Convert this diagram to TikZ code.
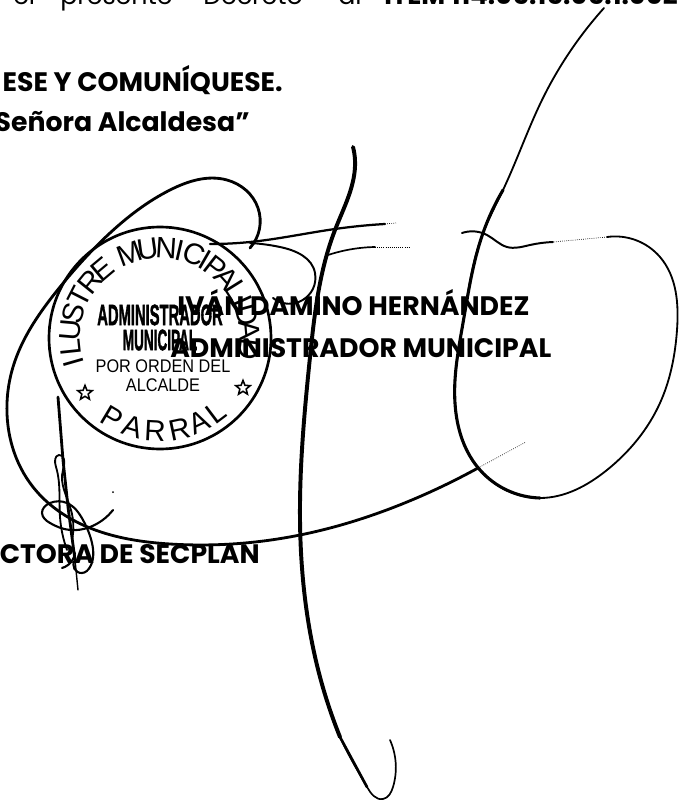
\documentclass[tikz,border=0pt]{standalone}
\usepackage{fontspec}
\setmainfont{Poppins}
\newfontfamily\stampfont{Liberation Sans}
\newfontfamily\stampheavy[FakeBold=2]{Liberation Sans Bold}
\usetikzlibrary{shapes.geometric,hobby}
\tikzset{
	bodytext/.style={font=\fontsize{19}{19}\selectfont\bfseries,inner sep=0pt,anchor=base east},
	linetext/.style={font=\fontsize{18}{18}\selectfont,inner sep=0pt,anchor=base west},
	stampletter/.style={font=\stampfont\fontsize{21}{21}\selectfont,inner sep=0pt},
	stampstar/.style={draw,line width=1.1pt,star,star points=5,star point ratio=2.3,minimum size=0.38cm,inner sep=0pt},
	pen/.style={use Hobby shortcut,line width=#1,line cap=round,line join=round},
	fade/.style={line width=0.5pt,densely dotted}
}
\begin{document}
\begin{tikzpicture}[x=0.025cm,y=-0.025cm]
	\useasboundingbox (0,0) rectangle (680,800);
	\clip (0,0) rectangle (680,800);
	
	% decree lines
	\node[linetext] (el) at (13,5) {el};
	\node[linetext] (presente) at (60,5) {presente};
	\node[linetext] (decreto) at (203,5) {Decreto};
	\node[linetext] (al) at (338,5) {al};
	\node[linetext,font=\fontsize{18.5}{18.5}\selectfont\bfseries] (item) at (384,5) {ITEM 114.05.15.05.1.002};
	\node[bodytext] (comunique) at (283,92) {ESE Y COMUNÍQUESE.};
	\node[bodytext] (senora) at (250,132) {Señora Alcaldesa”};
	
	% names
	\node[bodytext,anchor=base west] (ivan) at (177,315) {IVÁN DAMINO HERNÁNDEZ};
	\node[bodytext,anchor=base west] (cargo) at (170,357) {ADMINISTRADOR MUNICIPAL};
	\node[bodytext] (secplan) at (260,563) {CTORA DE SECPLAN};
	
	% stamp
	\begin{scope}[shift={(160,338)}]
		\draw[line width=1.9pt] (0,0) circle [radius=111];
		\foreach \a/\ltr in {196/I,186/L,175/U,164/S,153/T,141/R,130/E,110/M,98/U,86/N,77/I,68/C,60/I,52/P,42/A,32/L,24/I,15/D,5/A,-7/D}
		{
			\node[stampletter,rotate=\a-90] (top\a) at (-\a:90) {\ltr};
		}
		\foreach \a/\ltr in {239/P,253/A,267/R,282/R,295/A,307/L}
		{
			\node[stampletter,rotate=\a+90] (low\a) at (-\a:93) {\ltr};
		}
		\node[stampstar] (starl) at (-75,55) {};
		\node[stampstar] (starr) at (83,50) {};
	\end{scope}
	\node[inner sep=0pt,font=\stampheavy\fontsize{21}{21}\selectfont] (admin) at (160,315) {\scalebox{0.5}[1]{ADMINISTRADOR}};
	\node[inner sep=0pt,font=\stampheavy\fontsize{21}{21}\selectfont] (muni) at (160,340) {\scalebox{0.46}[1]{MUNICIPAL}};
	\node[inner sep=0pt,font=\stampfont\fontsize{13}{13}\selectfont] (orden) at (163,366) {\scalebox{0.89}[1]{POR ORDEN DEL}};
	\node[inner sep=0pt,font=\stampfont\fontsize{13}{13}\selectfont] (alcalde) at (163,385) {\scalebox{0.89}[1]{ALCALDE}};
	
	% big signature
	\draw[pen=2pt] (250,248) .. (258,208) .. (227,180) .. (170,190) .. (110,233) .. (60,287) .. (13,367) .. (7,403) .. (33,487) .. (90,528) .. (170,544) .. (300,535) .. (407,502) .. (478,468);
	\draw[fade] (478,468) -- (526,442);
	\draw[pen=1.2pt] (353,147) .. (355,160) .. (335,230) .. (310,357) .. (300,520) .. (320,677) .. (340,737) .. (367,787) .. (383,799) .. (393,787) .. (390,740);
	\draw[pen=2.8pt] (353,147) .. (355,160) .. (335,230) .. (310,357) .. (300,520) .. (320,677) .. (340,737);
	\draw[pen=1.9pt] (340,737) .. (367,787);
	\draw[pen=1.3pt] (604,8) .. (542,100) .. (503,190) .. (483,233) .. (463,323) .. (455,380) .. (480,470) .. (540,498) .. (607,470) .. (660,403) .. (677,330) .. (660,257) .. (607,237);
	\draw[pen=2.2pt] (503,190) .. (483,233) .. (463,323) .. (455,380) .. (480,470) .. (540,498);
	\draw[fade] (607,237) -- (553,242);
	\draw[pen=1.4pt] (553,242) .. (530,245) .. (507,247) .. (487,235) .. (462,233);
	\draw[pen=1.6pt] (210,244) .. (250,242) .. (335,229) .. (385,224);
	\draw[fade] (385,224) -- (396,223);
	\draw[pen=1.2pt] (328,255) .. (360,248) .. (375,247);
	\draw[fade] (375,247) -- (410,247);
	\draw[pen=1.4pt] (250,243) .. (280,247) .. (315,273) .. (273,298);
	
	% small signature
	\draw[line width=2pt,line cap=round] (58,397) -- (63,460) -- (68,507) -- (75,560);
	\draw[line width=1pt,line cap=round] (75,560) -- (78,590);
	\draw[pen=1.3pt] (67,550) .. (60,517) .. (56,467) .. (59,455) .. (63,470) .. (71,510) .. (72,540);
	\draw[pen=1.5pt] (113,510) .. (90,527) .. (70,530) .. (50,523) .. (42,513) .. (50,503) .. (67,503) .. (83,520) .. (92,543) .. (90,567) .. (82,573) .. (75,560);
	\draw[pen=1.5pt] (62,568) .. (68,565) .. (75,553);
	\fill (113,492) circle [radius=1];
\end{tikzpicture}
\end{document}
